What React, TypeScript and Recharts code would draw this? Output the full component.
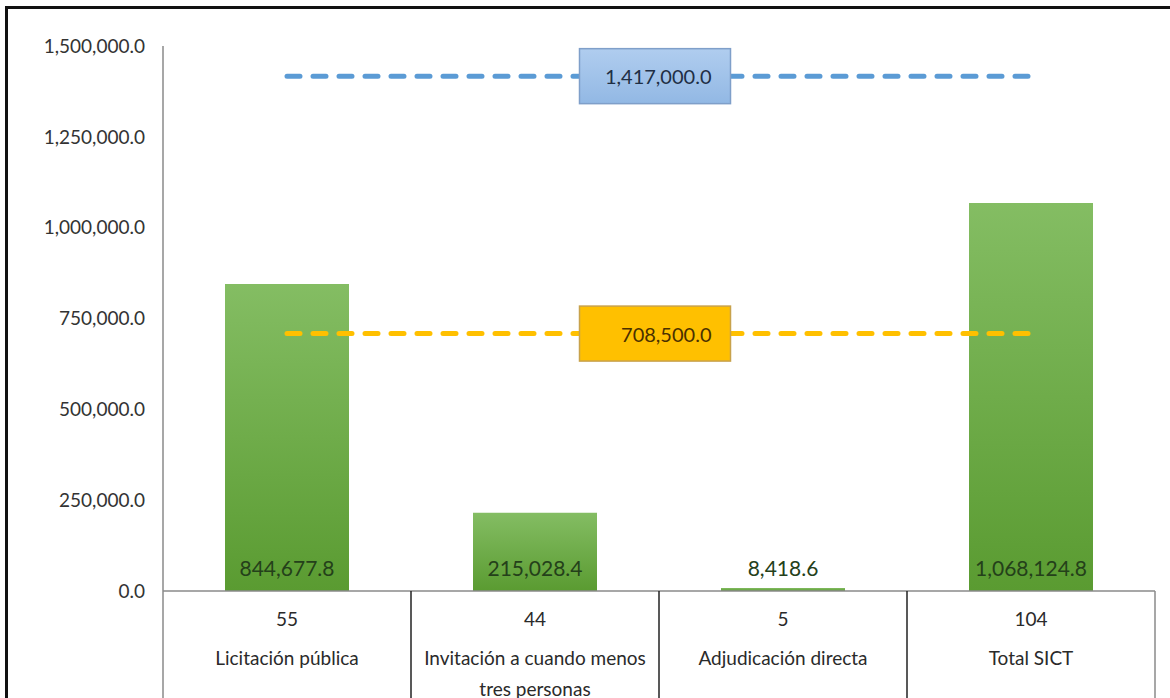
import React from "react";
import { Bar, ComposedChart, LabelList, ReferenceLine, XAxis, YAxis } from "recharts";

const categories = ["Licitación pública", "Invitación a cuando menos tres personas", "Adjudicación directa", "Total SICT"];
const counts = [55, 44, 5, 104];
const amounts = [844677.8, 215028.4, 8418.6, 1068124.8];
const yTicks = [0, 250000, 500000, 750000, 1000000, 1250000, 1500000];
const metaMax = 1417000.0;
const metaMin = 708500.0;

const FONT = "Lato, 'Open Sans', sans-serif";

const fmt = (v: number) =>
  v.toLocaleString("en-US", { minimumFractionDigits: 1, maximumFractionDigits: 1 });

const data = categories.map((name, i) => ({ name, count: counts[i], amount: amounts[i] }));

// greedy word wrap by character count (Excel wraps the long label after "menos")
function wrap(label: string, maxChars = 26) {
  const lines: string[] = [];
  let cur = "";
  for (const w of label.split(" ")) {
    const next = cur ? cur + " " + w : w;
    if (next.length > maxChars && cur) {
      lines.push(cur);
      cur = w;
    } else {
      cur = next;
    }
  }
  if (cur) lines.push(cur);
  return lines;
}

function CategoryTick(props: any) {
  const { x, y, payload, index } = props;
  const half = payload.offset ?? 124;
  const row = data[index];
  const last = index === data.length - 1;
  return (
    <g>
      {index === 0 && <line x1={x - half} x2={x - half} y1={y} y2={y + 120} stroke="#8a8a8a" strokeWidth={1.5} />}
      <line x1={x + half} x2={x + half} y1={y} y2={y + 120} stroke={last ? "#8a8a8a" : "#222"} strokeWidth={1.5} />
      <text x={x} y={y + 27} textAnchor="middle" dominantBaseline="central" fill="#2a2a2a" fontSize={19} fontFamily={FONT}>
        {row.count}
      </text>
      <text x={x} y={y + 66} textAnchor="middle" dominantBaseline="central" fill="#2a2a2a" fontSize={19} fontFamily={FONT}>
        {wrap(payload.value).map((line, i) => (
          <tspan key={i} x={x} dy={i === 0 ? 0 : 31}>
            {line}
          </tspan>
        ))}
      </text>
    </g>
  );
}

function AmountLabel(props: any) {
  const { x, y, width, height, value } = props;
  return (
    <text
      x={x + width / 2}
      y={y + height - 24}
      textAnchor="middle"
      dominantBaseline="central"
      fill="#24401a"
      fontSize={21}
      fontFamily={FONT}
    >
      {fmt(value)}
    </text>
  );
}

function MetaBox({ viewBox, value, fill, stroke, color }: any) {
  const cx = viewBox.x + viewBox.width / 2 - 4;
  const cy = viewBox.y;
  const w = 151;
  const h = 55;
  return (
    <g>
      <rect x={cx - w / 2} y={cy - h / 2} width={w} height={h} fill={fill} stroke={stroke} strokeWidth={1.5} />
      <text
        x={cx + w / 2 - 19}
        y={cy}
        textAnchor="end"
        dominantBaseline="central"
        fill={color}
        fontSize={20}
        fontFamily={FONT}
      >
        {fmt(value)}
      </text>
    </g>
  );
}

export default function App() {
  const first = categories[0];
  const lastCat = categories[categories.length - 1];
  return (
    <div style={{ position: "absolute", left: 0, top: 0, width: 1170, height: 698, background: "#fff", overflow: "hidden" }}>
      <div
        style={{
          position: "absolute",
          left: 5,
          top: 6,
          width: 1170,
          height: 700,
          borderTop: "3px solid #111",
          borderLeft: "3px solid #111",
        }}
      />
      <ComposedChart
        width={1170}
        height={698}
        data={data}
        margin={{ top: 46, right: 15, left: 0, bottom: 0 }}
        barCategoryGap="25%"
        style={{ position: "absolute", left: 0, top: 0 }}
      >
        <defs>
          <linearGradient id="barGreen" x1="0" y1="0" x2="0" y2="1">
            <stop offset="0%" stopColor="#84bd63" />
            <stop offset="100%" stopColor="#5a9b31" />
          </linearGradient>
          <linearGradient id="boxBlue" x1="0" y1="0" x2="0" y2="1">
            <stop offset="0%" stopColor="#b0cdef" />
            <stop offset="100%" stopColor="#92b8e4" />
          </linearGradient>
        </defs>
        <XAxis
          dataKey="name"
          interval={0}
          height={107}
          tickSize={0}
          tickMargin={0}
          tickLine={false}
          axisLine={{ stroke: "#8a8a8a", strokeWidth: 1.5 }}
          tick={<CategoryTick />}
        />
        <YAxis
          width={163}
          domain={[0, 1500000]}
          ticks={yTicks}
          tickFormatter={fmt}
          tickSize={0}
          tickMargin={18}
          tickLine={false}
          axisLine={{ stroke: "#8a8a8a", strokeWidth: 1.5 }}
          tick={{ fill: "#333", fontSize: 19, fontFamily: FONT }}
        />
        <Bar dataKey="amount" fill="url(#barGreen)" isAnimationActive={false}>
          <LabelList dataKey="amount" content={<AmountLabel />} />
        </Bar>
        <ReferenceLine
          segment={[{ x: first, y: metaMax }, { x: lastCat, y: metaMax }]}
          stroke="#5b9bd5"
          strokeWidth={5}
          strokeDasharray="13 13"
          strokeLinecap="round"
          label={<MetaBox value={metaMax} fill="url(#boxBlue)" stroke="#7f9fc9" color="#1f2f45" />}
        />
        <ReferenceLine
          segment={[{ x: first, y: metaMin }, { x: lastCat, y: metaMin }]}
          stroke="#ffc000"
          strokeWidth={5}
          strokeDasharray="13 13"
          strokeLinecap="round"
          label={<MetaBox value={metaMin} fill="#ffc000" stroke="#c8a24c" color="#4a3000" />}
        />
      </ComposedChart>
    </div>
  );
}
